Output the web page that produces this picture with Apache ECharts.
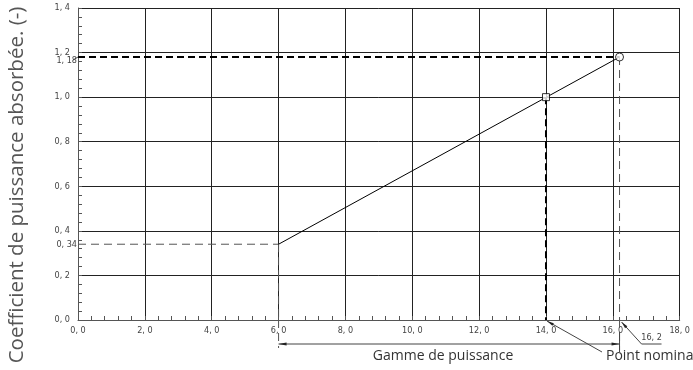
<!DOCTYPE html>
<html>
<head>
<meta charset="utf-8">
<script src="https://cdn.jsdelivr.net/npm/echarts@6/dist/echarts.min.js"></script>
<style>
  html, body { margin: 0; padding: 0; background: #fff; }
  #chart { width: 693px; height: 370px; }
</style>
</head>
<body>
<div id="chart"></div>
<script>
// Power range curve: absorbed power coefficient vs. power
const curveX = [6.0, 16.2];
const curveY = [0.34, 1.18];
const ratedPoint = [14.0, 1.0];
const nominalPoint = [16.2, 1.18];
const lowPoint = [6.0, 0.34];
const xRange = [0, 18, 2];
const yRange = [0, 1.4, 0.2];
const yName = 'Coefficient de puissance absorbée. (-)';
const rangeLabel = 'Gamme de puissance';
const nominalLabel = 'Point nominal';

const tickFont = '"DejaVu Sans Condensed", "DejaVu Sans", sans-serif';
const tickSize = 9;
const fmt = (v, d) => v.toFixed(d).replace('.', ', ');

const chart = echarts.init(document.getElementById('chart'), null, { renderer: 'canvas' });

const dashBold = { color: '#000', width: 2, type: [7, 4] };
const dashThin = { color: '#555', width: 1, type: [8, 5] };

chart.setOption({
  animation: false,
  grid: { left: 78, right: 12, top: 8, bottom: 50 },
  xAxis: {
    type: 'value', min: xRange[0], max: xRange[1], interval: xRange[2],
    axisLine: { show: true, lineStyle: { color: '#555', width: 1 } },
    axisTick: { show: true, inside: true, length: 4, lineStyle: { color: '#555' } },
    minorTick: { show: true, splitNumber: 5, length: 4, lineStyle: { color: '#555' } },
    splitLine: { show: true, lineStyle: { color: '#222', width: 1 } },
    axisLabel: { formatter: v => fmt(v, 1), fontFamily: tickFont, fontSize: tickSize, color: '#444', margin: 6 }
  },
  yAxis: {
    type: 'value', min: yRange[0], max: yRange[1], interval: yRange[2],
    axisLine: { show: true, lineStyle: { color: '#555', width: 1 } },
    axisTick: { show: true, inside: true, length: 4, lineStyle: { color: '#555' } },
    minorTick: { show: true, splitNumber: 5, length: 4, lineStyle: { color: '#555' } },
    splitLine: { show: true, lineStyle: { color: '#222', width: 1 } },
    axisLabel: { formatter: v => fmt(v, 1), fontFamily: tickFont, fontSize: tickSize, color: '#444', margin: 8 }
  },
  series: [
    { // guide at nominal coefficient
      type: 'line', symbol: 'none', lineStyle: dashBold, z: 3,
      data: [[xRange[0], nominalPoint[1]], nominalPoint]
    },
    { // guide at rated power
      type: 'line', symbol: 'none', lineStyle: dashBold, z: 3,
      data: [ratedPoint, [ratedPoint[0], yRange[0]]]
    },
    { // guide at range start coefficient
      type: 'line', symbol: 'none', lineStyle: dashThin, z: 3,
      data: [[xRange[0], lowPoint[1]], lowPoint]
    },
    { // guide down from range start
      type: 'line', symbol: 'none', lineStyle: dashThin, z: 3,
      data: [lowPoint, [lowPoint[0], yRange[0]]]
    },
    { // guide down from nominal point
      type: 'line', symbol: 'none', lineStyle: dashThin, z: 3,
      data: [nominalPoint, [nominalPoint[0], yRange[0]]]
    },
    { // coefficient curve
      type: 'line', symbol: 'none', lineStyle: { color: '#000', width: 1 }, z: 4,
      data: curveX.map((x, i) => [x, curveY[i]])
    },
    {
      type: 'scatter', symbol: 'rect', symbolSize: 7, z: 5,
      itemStyle: { color: '#fff', borderColor: '#000', borderWidth: 1 },
      data: [ratedPoint]
    },
    {
      type: 'scatter', symbol: 'circle', symbolSize: 8, z: 5,
      itemStyle: { color: '#fff', borderColor: '#000', borderWidth: 1 },
      data: [nominalPoint]
    }
  ]
});

// Annotations placed through the axis scales
const px = p => chart.convertToPixel({ xAxisIndex: 0, yAxisIndex: 0 }, p);
const o = px([0, 0]);
const axisX = o[0], axisY = o[1];
const p6 = px([lowPoint[0], 0]);
const p14 = px([ratedPoint[0], 0]);
const p16 = px([nominalPoint[0], 0]);
const y118 = px([0, nominalPoint[1]])[1];
const y034 = px([0, lowPoint[1]])[1];
const dimY = axisY + 24;
const smallFont = tickSize + 'px ' + tickFont;
const textFont = '14px "Open Sans"';

const thin = { stroke: '#444', lineWidth: 1 };
const dashed = { stroke: '#555', lineWidth: 1, lineDash: [8, 5] };
const g = [];
const line = (x1, y1, x2, y2, style) => g.push({ type: 'line', shape: { x1, y1, x2, y2 }, style: style || thin, z: 10 });
const arrow = (tipX, tipY, dx, dy, len, w) => {
  const n = Math.hypot(dx, dy), ux = dx / n, uy = dy / n;
  const bx = tipX + ux * len, by = tipY + uy * len;
  g.push({ type: 'polygon', z: 10, style: { fill: '#222' },
    shape: { points: [[tipX, tipY], [bx - uy * w, by + ux * w], [bx + uy * w, by - ux * w]] } });
};

// extension of the vertical guides below the axis
line(p6[0], axisY, p6[0], dimY + 4, dashed);
line(p16[0], axisY, p16[0], dimY + 6, dashed);
line(p16[0], dimY - 12, p16[0], dimY + 8);

// dimension line of the power range
line(p6[0], dimY, p16[0], dimY);
arrow(p6[0], dimY, 1, 0, 8, 1.5);
arrow(p16[0], dimY, -1, 0, 8, 1.5);

g.push({ type: 'text', z: 10, style: { text: rangeLabel, x: (p6[0] + p16[0]) / 2 - 6, y: dimY + 12,
  align: 'center', verticalAlign: 'middle', font: textFont, fill: '#333' } });

// leader to the rated point
line(p14[0] + 1, axisY + 1, p14[0] + 56, dimY + 8);
arrow(p14[0] + 1, axisY + 1, 55, dimY + 7 - axisY, 7, 1.5);
g.push({ type: 'text', z: 10, style: { text: nominalLabel, x: p14[0] + 60, y: dimY + 12,
  align: 'left', verticalAlign: 'middle', font: textFont, fill: '#333' } });

// leader to the nominal power value
line(p16[0] + 2, axisY + 2, p16[0] + 22, dimY);
arrow(p16[0] + 2, axisY + 2, 20, dimY - axisY - 2, 7, 1.5);
line(p16[0] + 22, dimY, p16[0] + 42, dimY);
g.push({ type: 'text', z: 10, style: { text: fmt(nominalPoint[0], 1), x: p16[0] + 32, y: dimY - 6,
  align: 'center', verticalAlign: 'middle', font: smallFont, fill: '#444' } });

// value labels on the coefficient axis
g.push({ type: 'text', z: 10, style: { text: fmt(nominalPoint[1], 2), x: axisX - 1, y: y118 + 4,
  align: 'right', verticalAlign: 'middle', font: smallFont, fill: '#444' } });
line(axisX - 5, y118 + 3, axisX, y118);
g.push({ type: 'text', z: 10, style: { text: fmt(lowPoint[1], 2), x: axisX - 1, y: y034,
  align: 'right', verticalAlign: 'middle', font: smallFont, fill: '#444' } });

// axis title
g.push({ type: 'text', z: 10, x: 17, y: 185, rotation: Math.PI / 2,
  style: { text: yName, x: 0, y: 0, align: 'center', verticalAlign: 'middle',
    font: '20.5px "Open Sans"', fill: '#555' } });

chart.setOption({ graphic: g });
</script>
</body>
</html>
